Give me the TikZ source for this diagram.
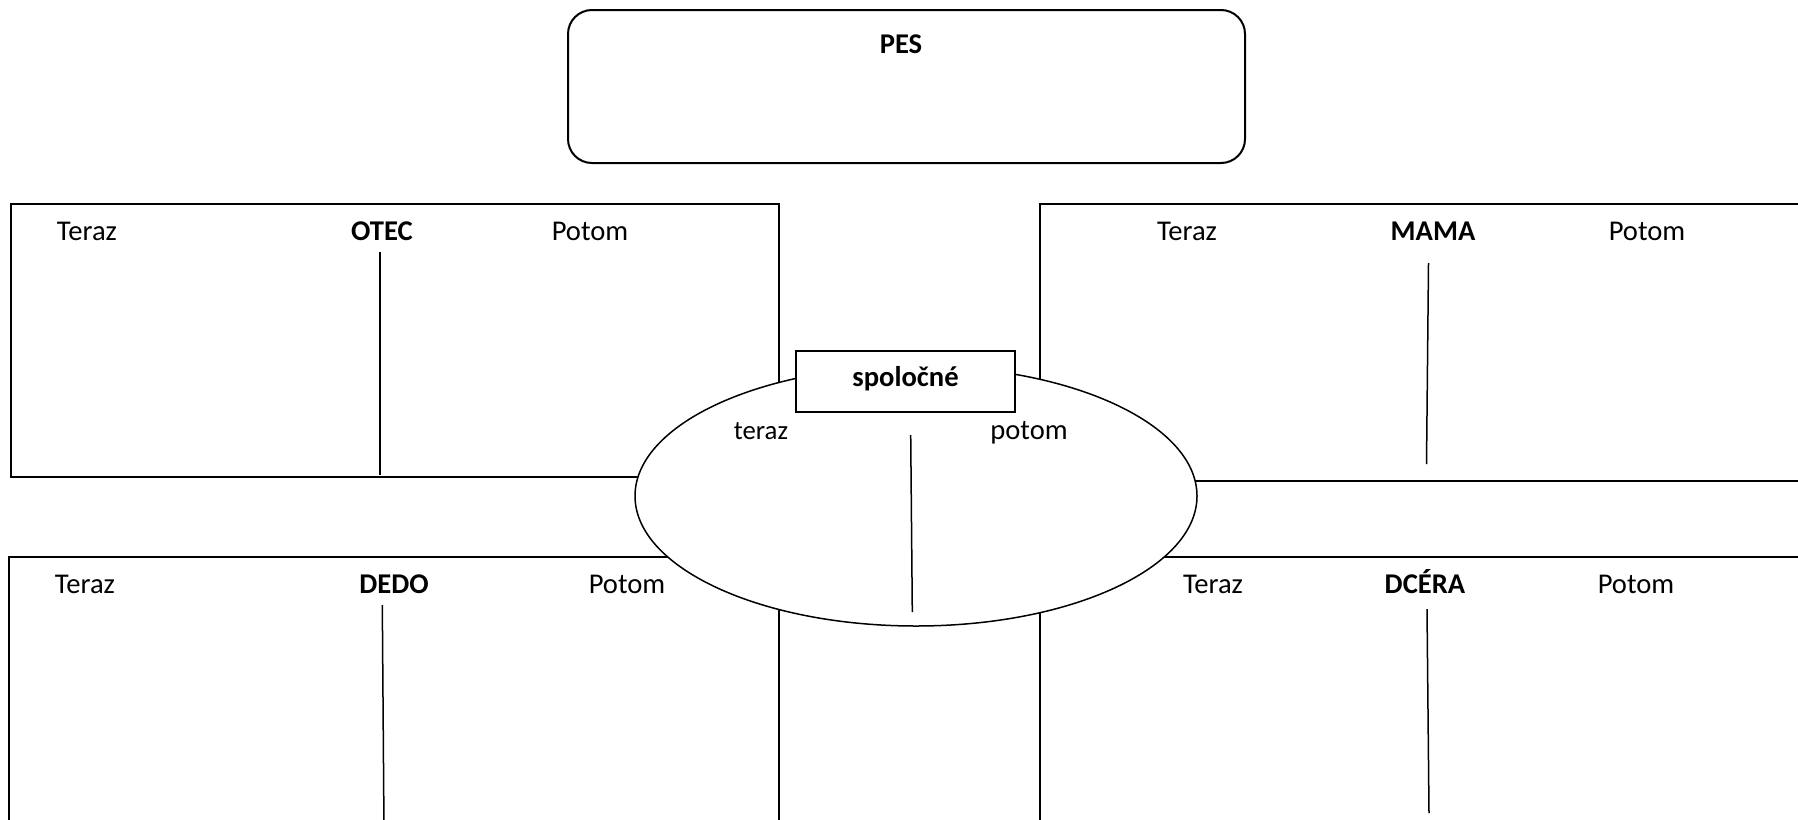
\documentclass[tikz,border=0pt]{standalone}
\usepackage{fontspec}
\setmainfont{Carlito}
\begin{document}
\begin{tikzpicture}[x=0.5pt,y=-0.5pt,
  frame/.style={draw=black,line width=1pt},
  thin/.style={draw=black,line width=0.75pt},
  lbl/.style={anchor=base,inner sep=0pt,font=\fontsize{14.3}{17}\selectfont},
  head/.style={lbl,font=\fontsize{14.3}{17}\selectfont\bfseries},
  small/.style={lbl,font=\fontsize{13.4}{16}\selectfont}]
\useasboundingbox (0,0) rectangle (1798,819);
\clip (0,0) rectangle (1798,819);
\fill[white] (0,0) rectangle (1798,819);
% PES box
\draw[frame,rounded corners=12pt] (568,10) rectangle (1245,163);
\node[head] (pes) at (901,53) {PES};
% quadrant boxes
\draw[frame] (11,204) rectangle (779,477);
\draw[frame] (1040,204) rectangle (1900,481);
\draw[frame] (9,557) rectangle (779,900);
\draw[frame] (1040,557) rectangle (1900,900);
% ellipse
\draw[thin,fill=white] (916,496) ellipse [x radius=281, y radius=130];
\draw[thin,fill=white] (796,351) rectangle (1015,412);
\node[head] (spol) at (905.5,386) {spoločné};
\node[small] (eteraz) at (761,439) {teraz};
\node[lbl] (epotom) at (1029,439) {potom};
\coordinate (e1) at (910.7,435);
\coordinate (e2) at (912.3,612);
\draw[thin] (e1) -- (e2);
% OTEC
\node[lbl] (t1) at (87,240) {Teraz};
\node[head] (otec) at (382,240) {OTEC};
\node[lbl] (p1) at (590,240) {Potom};
\coordinate (o1) at (380,252);
\coordinate (o2) at (380,475);
\draw[thin] (o1) -- (o2);
% MAMA
\node[lbl] (t2) at (1187,240) {Teraz};
\node[head] (mama) at (1433,240) {MAMA};
\node[lbl] (p2) at (1647,240) {Potom};
\coordinate (m1) at (1428.5,263);
\coordinate (m2) at (1426.5,464);
\draw[thin] (m1) -- (m2);
% DEDO
\node[lbl] (t3) at (85,593) {Teraz};
\node[head] (dedo) at (394,593) {DEDO};
\node[lbl] (p3) at (627,593) {Potom};
\coordinate (d1) at (382.3,605);
\coordinate (d2) at (384,830);
\draw[thin] (d1) -- (d2);
% DCERA
\node[lbl] (t4) at (1213,593) {Teraz};
\node[head] (dcera) at (1425,593) {DCÉRA};
\node[lbl] (p4) at (1636,593) {Potom};
\coordinate (c1) at (1427,609);
\coordinate (c2) at (1429,813);
\draw[thin] (c1) -- (c2);
\end{tikzpicture}
\end{document}
